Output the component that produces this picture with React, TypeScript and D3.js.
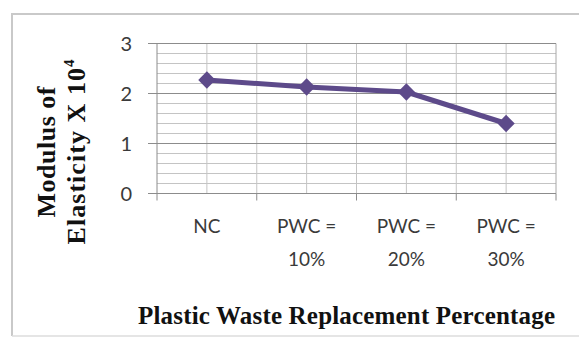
import React from "react";
import * as d3 from "d3";

// Modulus of elasticity (× 10^4) by plastic waste replacement level
const categories = ["NC", "PWC = 10%", "PWC = 20%", "PWC = 30%"];
const categoryLines = [["NC"], ["PWC =", "10%"], ["PWC =", "20%"], ["PWC =", "30%"]];
const modulusValues = [2.27, 2.13, 2.03, 1.4];
const yTicks = [0, 1, 2, 3];
const yTitleLines = ["Modulus of", "Elasticity X 10"];
const yTitleSup = "4";
const xTitle = "Plastic Waste Replacement Percentage";

const W = 579;
const H = 337;
const plot = { left: 157, right: 556, top: 43.5, bottom: 193.5 };

export default function App() {
  const x = d3.scaleBand<string>().domain(categories).range([plot.left, plot.right]);
  const y = d3.scaleLinear().domain([0, 3]).range([plot.bottom, plot.top]);
  const minorTicks = d3.range(0, 3.0001, 0.2).filter((v) => Math.abs(v - Math.round(v)) > 1e-6);
  const bw = x.bandwidth();
  const verticals: number[] = [];
  categories.forEach((c) => {
    verticals.push(x(c)! + bw / 2);
  });
  categories.slice(1).forEach((c) => verticals.push(x(c)!));

  const points = categories.map((c, i) => [x(c)! + bw / 2, y(modulusValues[i])] as [number, number]);
  const line = d3.line();
  const diamond = d3.symbol().type(d3.symbolDiamond2).size(190);

  const sans = "Lato, 'Open Sans', sans-serif";
  const serif = "'Liberation Serif', 'DejaVu Serif', serif";

  return (
    <svg
      width={W}
      height={H}
      viewBox={`0 0 ${W} ${H}`}
      style={{ position: "absolute", left: 0, top: 0, background: "#fff" }}
    >
      <rect x={0} y={0} width={W} height={H} fill="#fff" />
      {/* chart frame */}
      <path d={`M12,${H - 1} V14 H${W + 2}`} fill="none" stroke="#c9c9c9" strokeWidth={2} />
      <line x1={12} x2={W} y1={H - 1} y2={H - 1} stroke="#dcdcdc" strokeWidth={1.5} />

      {/* minor horizontal grid */}
      {minorTicks.map((v) => (
        <line key={`m${v}`} x1={plot.left} x2={plot.right} y1={y(v)} y2={y(v)} stroke="#c4c4c4" strokeWidth={1} />
      ))}
      {/* vertical grid */}
      {verticals.map((vx, i) => (
        <line key={`v${i}`} x1={vx} x2={vx} y1={plot.top} y2={plot.bottom} stroke="#c4c4c4" strokeWidth={1} />
      ))}
      <line x1={plot.right} x2={plot.right} y1={plot.top} y2={plot.bottom} stroke="#a8a8a8" strokeWidth={1} />
      {/* major horizontal grid */}
      {yTicks.map((v) => (
        <line key={`g${v}`} x1={plot.left - 9} x2={plot.right} y1={y(v)} y2={y(v)} stroke="#8c8c8c" strokeWidth={1} />
      ))}
      {/* axes */}
      <line x1={plot.left} x2={plot.left} y1={plot.top} y2={plot.bottom} stroke="#8c8c8c" strokeWidth={1} />
      {[...categories.map((c) => x(c)!), plot.right].map((tx, i) => (
        <line key={`t${i}`} x1={tx} x2={tx} y1={plot.bottom} y2={plot.bottom + 7} stroke="#8c8c8c" strokeWidth={1} />
      ))}

      {/* y tick labels */}
      {yTicks.map((v) => (
        <text
          key={`yl${v}`}
          x={132}
          y={y(v) + 7.5}
          textAnchor="end"
          fontFamily={sans}
          fontSize={20}
          fill="#3a3a3a"
        >
          {v}
        </text>
      ))}

      {/* x tick labels */}
      {categories.map((c, i) => (
        <text key={`xl${c}`} textAnchor="middle" fontFamily={sans} fontSize={19} fill="#3a3a3a">
          {categoryLines[i].map((ln, j) => (
            <tspan key={j} x={x(c)! + bw / 2} y={233 + j * 33}>
              {ln}
            </tspan>
          ))}
        </text>
      ))}

      {/* series */}
      <path d={line(points)!} fill="none" stroke="#5d4a8a" strokeWidth={5} strokeLinejoin="round" />
      {points.map((p, i) => (
        <path key={`p${i}`} d={diamond()!} transform={`translate(${p[0]},${p[1]})`} fill="#5d4a8a" />
      ))}

      {/* axis titles */}
      <g transform="translate(55,152) rotate(-90)">
        <text
          x={-65.5}
          y={0}
          textLength={131}
          lengthAdjust="spacing"
          fontFamily={serif}
          fontWeight="bold"
          fontSize={26}
          fill="#111"
        >
          {yTitleLines[0]}
        </text>
      </g>
      <g transform="translate(85,152) rotate(-90)">
        <text
          x={-92.5}
          y={0}
          textLength={185}
          lengthAdjust="spacing"
          fontFamily={serif}
          fontWeight="bold"
          fontSize={26}
          fill="#111"
        >
          {yTitleLines[1]}
          <tspan fontSize={15} dy={-11}>
            {yTitleSup}
          </tspan>
        </text>
      </g>
      <text
        x={138}
        y={324}
        textLength={417}
        lengthAdjust="spacing"
        fontFamily={serif}
        fontWeight="bold"
        fontSize={25}
        fill="#111"
      >
        {xTitle}
      </text>
    </svg>
  );
}
